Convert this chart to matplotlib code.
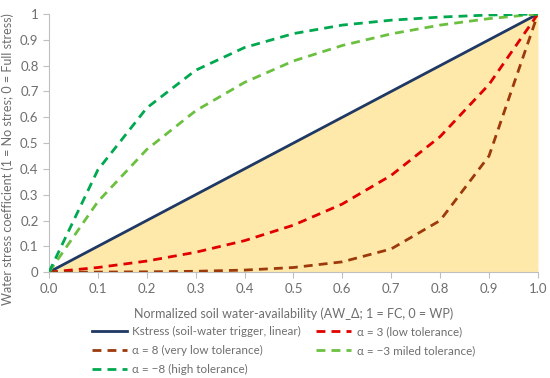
import matplotlib.pyplot as plt

# Normalized soil water-availability (x) and stress coefficients
x = [0.0, 0.1, 0.2, 0.3, 0.4, 0.5, 0.6, 0.7, 0.8, 0.9, 1.0]
kstress = [0.0, 0.1, 0.2, 0.3, 0.4, 0.5, 0.6, 0.7, 0.8, 0.9, 1.0]
alpha_p3 = [0.0, 0.018, 0.043, 0.077, 0.122, 0.182, 0.264, 0.375, 0.525, 0.727, 1.0]
alpha_p8 = [0.0, 0.0004, 0.0013, 0.0034, 0.008, 0.018, 0.040, 0.090, 0.20, 0.45, 1.0]
alpha_m3 = [0.0, 0.273, 0.475, 0.625, 0.735, 0.818, 0.878, 0.923, 0.957, 0.982, 1.0]
alpha_m8 = [0.0, 0.396, 0.636, 0.782, 0.870, 0.924, 0.957, 0.976, 0.988, 0.996, 1.0]

x_ticks = [0.0, 0.1, 0.2, 0.3, 0.4, 0.5, 0.6, 0.7, 0.8, 0.9, 1.0]
y_ticks = [0, 0.1, 0.2, 0.3, 0.4, 0.5, 0.6, 0.7, 0.8, 0.9, 1]

plt.rcParams['font.family'] = ['Lato', 'DejaVu Sans']
gray = '#6E6E6E'

fig = plt.figure(figsize=(5.5, 3.78), dpi=100)
ax = fig.add_axes([0.089, 0.280, 0.889, 0.683])

# shaded area under the linear trigger
ax.fill_between(x, 0, kstress, color='#FFE9AA', lw=0, zorder=1)

dash = (3.2, 2.2)
l_k, = ax.plot(x, kstress, color='#1F3864', lw=2.0, zorder=3,
               label='Kstress (soil-water trigger, linear)')
l_p3, = ax.plot(x, alpha_p3, color='#E00000', lw=2.0, dashes=dash, zorder=3,
                label='\u03b1 = 3 (low tolerance)')
l_p8, = ax.plot(x, alpha_p8, color='#9C3A0C', lw=2.0, dashes=dash, zorder=3,
                label='\u03b1 = 8 (very low tolerance)')
l_m3, = ax.plot(x, alpha_m3, color='#6CC040', lw=2.0, dashes=dash, zorder=3,
                label='\u03b1 = \u22123 miled tolerance)')
l_m8, = ax.plot(x, alpha_m8, color='#00A84F', lw=2.0, dashes=dash, zorder=3,
                label='\u03b1 = \u22128 (high tolerance)')

ax.set_xlim(0, 1)
ax.set_ylim(0, 1)
ax.set_xticks(x_ticks)
ax.set_xticklabels([f'{t:.1f}' for t in x_ticks])
ax.set_yticks(y_ticks)
ax.set_yticklabels([f'{t:g}' for t in y_ticks])
ax.tick_params(colors='#BFBFBF', labelcolor=gray, labelsize=9.5, length=4, width=0.8)

for side in ['top', 'right']:
    ax.spines[side].set_visible(False)
for side in ['left', 'bottom']:
    ax.spines[side].set_color('#BFBFBF')
    ax.spines[side].set_linewidth(0.8)

ax.set_xlabel('Normalized soil water-availability (AW_\u0394; 1 = FC, 0 = WP)',
              fontsize=9, color=gray, labelpad=9)
ax.set_ylabel('Water stress coefficient (1 = No stres; 0 = Full stress)',
              fontsize=9, color=gray)
ax.yaxis.set_label_coords(-0.072, 0.44)

# legend: column-major order gives the two-column layout of the original
handles = [l_k, l_p8, l_m8, l_p3, l_m3]
fig.legend(handles=handles, labels=[h.get_label() for h in handles],
           loc='upper left', bbox_to_anchor=(0.158, 0.150), ncol=2,
           frameon=False, fontsize=8.4, labelcolor=gray, handlelength=3.0,
           handletextpad=0.5, columnspacing=1.3, labelspacing=0.7,
           borderaxespad=0)

fig.savefig('out.png', dpi=100)
